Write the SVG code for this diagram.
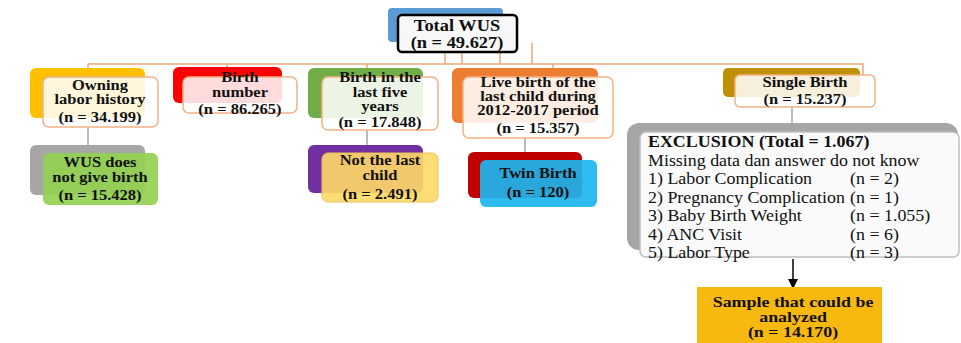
<svg xmlns="http://www.w3.org/2000/svg" width="961" height="343" viewBox="0 0 961 343">
<defs>
<style>
text{font-family:"Liberation Serif","Times New Roman",serif;fill:#111;}
.lbl{font-size:14px;font-weight:bold;text-anchor:middle;}
.big{font-size:16px;font-weight:bold;text-anchor:middle;}
.smp{font-size:14px;font-weight:bold;text-anchor:middle;}
.ex{font-size:16px;}
.exh{font-size:16px;font-weight:bold;}
.front2{fill:#fff;fill-opacity:0.86;stroke:#f4b183;stroke-width:1.5;}
.conn{stroke:#f0a878;stroke-width:1.5;fill:none;}
.gconn{stroke:#a6a6a6;stroke-width:1.5;fill:none;}
</style>
<marker id="arr" markerWidth="10" markerHeight="10" refX="9" refY="5" orient="auto" markerUnits="userSpaceOnUse">
<path d="M0,0 L10,5 L0,10 Z" fill="#000"/>
</marker>
</defs>
<rect width="961" height="343" fill="#fff"/>

<g id="connectors">
<path class="conn" d="M88,64 H863 V75"/>
<path class="conn" d="M445,52 V64 M462,52 V64 M500,52 V64 M532,43 V64"/>
<path class="conn" d="M88,64 V68 M227,64 V67 M367,64 V68 M553,64 V68"/>
<path class="gconn" d="M88,127 V145 M367,130 V145 M525,138 V152 M792,107 V123"/>
<line x1="793" y1="259" x2="793" y2="288" stroke="#000" stroke-width="1.5" marker-end="url(#arr)"/>
</g>

<g id="total">
<rect x="388" y="8" width="115" height="34" rx="4" fill="#5b9bd5"/>
<rect x="398" y="15" width="119" height="37" rx="4" fill="#f7f7f7" stroke="#000" stroke-width="2.5"/>
<g transform="matrix(1.15,0,0,1,-68.55,0)">
<text class="big" x="457" y="31">Total WUS</text>
<text class="big" x="457" y="48">(n = 49.627)</text>
</g>
</g>

<g id="owning">
<rect x="30" y="68" width="115" height="50" rx="6" fill="#ffc000"/>
<rect class="front2" x="43" y="77" width="115" height="50" rx="6"/>
<g transform="matrix(1.18,0,0,1,-18,0)">
<text class="lbl" x="100" y="90">Owning</text>
<text class="lbl" x="100" y="104">labor history</text>
<text class="lbl" x="100" y="122">(n = 34.199)</text>
</g>
</g>

<g id="birthnumber">
<rect x="173" y="67" width="109" height="36" rx="6" fill="#ff0000"/>
<rect class="front2" x="183" y="77" width="114" height="36" rx="6"/>
<g transform="matrix(1.18,0,0,1,-43.2,0)">
<text class="lbl" x="240" y="82">Birth</text>
<text class="lbl" x="240" y="97">number</text>
<text class="lbl" x="240" y="114">(n = 86.265)</text>
</g>
</g>

<g id="lastfive">
<rect x="308" y="68" width="115" height="50" rx="6" fill="#70ad47"/>
<rect class="front2" x="322" y="77" width="116" height="53" rx="6"/>
<g transform="matrix(1.18,0,0,1,-68.4,0)">
<text class="lbl" x="380" y="82">Birth in the</text>
<text class="lbl" x="380" y="97">last five</text>
<text class="lbl" x="380" y="111">years</text>
<text class="lbl" x="380" y="127">(n = 17.848)</text>
</g>
</g>

<g id="livebirth">
<rect x="452" y="68" width="146" height="55" rx="6" fill="#ed7d31"/>
<rect class="front2" x="463" y="77" width="150" height="61" rx="6"/>
<g transform="matrix(1.18,0,0,1,-96.84,0)">
<text class="lbl" x="538" y="87">Live birth of the</text>
<text class="lbl" x="538" y="101">last child during</text>
<text class="lbl" x="538" y="115">2012-2017 period</text>
<text class="lbl" x="538" y="133">(n = 15.357)</text>
</g>
</g>

<g id="single">
<rect x="723" y="68" width="137" height="29" rx="5" fill="#bf9000"/>
<rect class="front2" x="735" y="75" width="140" height="32" rx="5"/>
<g transform="matrix(1.18,0,0,1,-144.9,0)">
<text class="lbl" x="805" y="87">Single Birth</text>
<text class="lbl" x="805" y="104">(n = 15.237)</text>
</g>
</g>

<g id="nobirth">
<rect x="30" y="145" width="115" height="50" rx="6" fill="#a6a6a6"/>
<rect x="43" y="153" width="115" height="52" rx="6" fill="#92d050" fill-opacity="0.92"/>
<g transform="matrix(1.18,0,0,1,-18,0)">
<text class="lbl" x="100" y="167">WUS does</text>
<text class="lbl" x="100" y="182">not give birth</text>
<text class="lbl" x="100" y="200">(n = 15.428)</text>
</g>
</g>

<g id="notlast">
<rect x="308" y="145" width="115" height="48" rx="6" fill="#7030a0"/>
<rect x="322" y="153" width="116" height="49" rx="6" fill="#ffd966" fill-opacity="0.9" stroke="#e6c35a" stroke-width="1"/>
<g transform="matrix(1.18,0,0,1,-68.4,0)">
<text class="lbl" x="380" y="165">Not the last</text>
<text class="lbl" x="380" y="180">child</text>
<text class="lbl" x="380" y="199">(n = 2.491)</text>
</g>
</g>

<g id="twin">
<rect x="468" y="152" width="114" height="46" rx="6" fill="#c00000"/>
<rect x="480" y="160" width="117" height="47" rx="6" fill="#1cb5ee" fill-opacity="0.92"/>
<g transform="matrix(1.18,0,0,1,-96.84,0)">
<text class="lbl" x="538" y="178">Twin Birth</text>
<text class="lbl" x="538" y="197">(n = 120)</text>
</g>
</g>

<g id="exclusion">
<rect x="627" y="123" width="331" height="127" rx="12" fill="#a6a6a6"/>
<rect x="640" y="132" width="319" height="125" rx="6" fill="#fafafa" stroke="#bfbfbf" stroke-width="1.5"/>
<g transform="matrix(1.12,0,0,1,-77.76,0)">
<text class="exh" x="648" y="147">EXCLUSION (Total = 1.067)</text>
<text class="ex" x="648" y="166">Missing data dan answer do not know</text>
<text class="ex" x="648" y="184">1) Labor Complication</text>
<text class="ex" x="828.4" y="184">(n = 2)</text>
<text class="ex" x="648" y="203">2) Pregnancy Complication</text>
<text class="ex" x="828.4" y="203">(n = 1)</text>
<text class="ex" x="648" y="221">3) Baby Birth Weight</text>
<text class="ex" x="828.4" y="221">(n = 1.055)</text>
<text class="ex" x="648" y="240">4) ANC Visit</text>
<text class="ex" x="828.4" y="240">(n = 6)</text>
<text class="ex" x="648" y="258">5) Labor Type</text>
<text class="ex" x="828.4" y="258">(n = 3)</text>
</g>
</g>

<g id="sample">
<rect x="697" y="287" width="185" height="60" fill="#f7b80f"/>
<g transform="matrix(1.28,0,0,1,-222,0)">
<text class="smp" x="793" y="307">Sample that could be</text>
<text class="smp" x="793" y="322">analyzed</text>
<text class="smp" x="793" y="337">(n = 14.170)</text>
</g>
</g>
</svg>
